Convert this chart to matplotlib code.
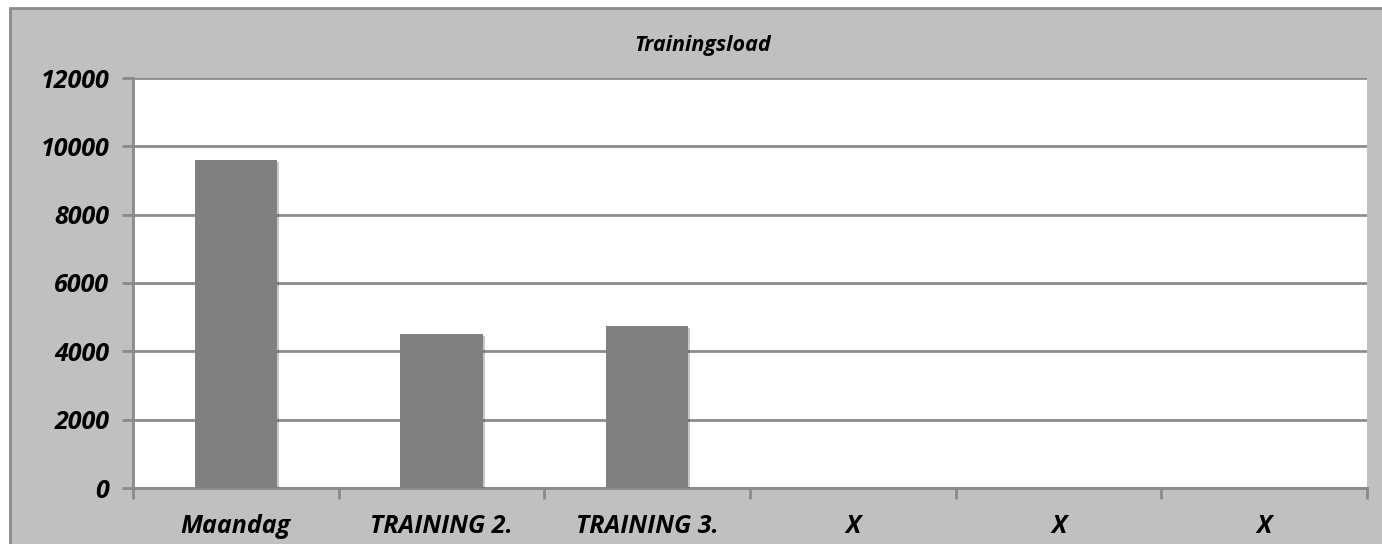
import numpy as np
import matplotlib.pyplot as plt
from matplotlib.patches import Rectangle
import matplotlib.patheffects as pe

# Data
categories = ["Maandag", "TRAINING 2.", "TRAINING 3.", "X", "X", "X"]
load = [9590, 4500, 4730, 0, 0, 0]
y_ticks = [0, 2000, 4000, 6000, 8000, 10000, 12000]

W, H = 1382, 544
fig = plt.figure(figsize=(W / 100, H / 100), dpi=100, facecolor="white")

# chart area background with border
bg = Rectangle((10 / W, -0.1), 1.0, (H - 8) / H + 0.1, transform=fig.transFigure,
               facecolor="#c0c0c0", edgecolor="#8a8a8a", linewidth=2)
bg.set_zorder(-10)
fig.add_artist(bg)

ax = fig.add_axes([133 / W, (H - 488) / H, (1367 - 133) / W, (488 - 78) / H])
ax.set_zorder(5)
ax.set_facecolor("white")

x = np.arange(len(categories))
bars = ax.bar(x, load, width=0.4, color="#808080", zorder=3)
for b in bars:
    b.set_path_effects([pe.SimplePatchShadow(offset=(1.5, -1.5), alpha=0.25), pe.Normal()])

ax.set_xlim(-0.5, len(categories) - 0.5)
ax.set_ylim(0, 12000)
ax.set_yticks(y_ticks)
ax.set_yticklabels([str(v) for v in y_ticks])
ax.yaxis.grid(True, color="#8c8c8c", linewidth=2, zorder=1)
ax.set_axisbelow(True)

# ticks sit between categories, labels centred under bars
ax.set_xticks(np.arange(-0.5, len(categories)), minor=False)
ax.set_xticklabels([])
ax.set_xticks(x, minor=True)
ax.set_xticklabels(categories, minor=True)
ax.tick_params(axis="x", which="minor", length=0, pad=19)
ax.tick_params(axis="x", which="major", length=8, width=2, color="#8a8a8a")
ax.tick_params(axis="y", length=8, width=2, color="#8a8a8a", pad=9)

for lbl in ax.get_yticklabels() + ax.get_xticklabels(minor=True):
    lbl.set_fontfamily("Open Sans")
    lbl.set_fontweight("bold")
    lbl.set_fontstyle("italic")
    lbl.set_fontsize(18)

for side in ["top", "right"]:
    ax.spines[side].set_visible(False)
for side in ["left", "bottom"]:
    ax.spines[side].set_color("#8a8a8a")
    ax.spines[side].set_linewidth(2)

fig.text(703 / W, 1 - 45 / H, "Trainingsload", ha="center", va="center",
         family="Open Sans", weight="bold", style="italic", fontsize=15.5)

fig.savefig("out.png", dpi=100)
